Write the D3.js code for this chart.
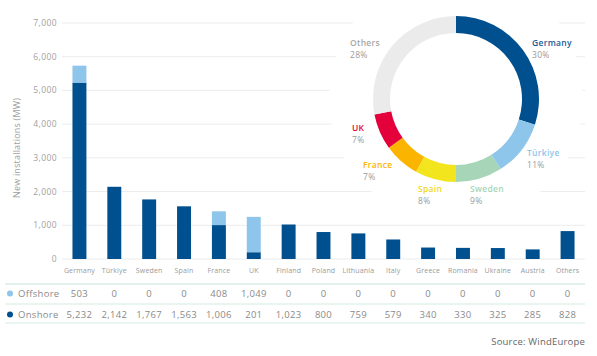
<!DOCTYPE html>
<html><head><meta charset="utf-8">
<script src="https://cdn.jsdelivr.net/npm/d3@7/dist/d3.min.js"></script>
<style>
body{margin:0;background:#fff;}
svg{display:block;font-family:"Open Sans",sans-serif;}
</style></head>
<body><svg id="c" width="597" height="356"></svg>
<script>
const categories = ["Germany","Türkiye","Sweden","Spain","France","UK","Finland","Poland","Lithuania","Italy","Greece","Romania","Ukraine","Austria","Others"];
const offshore = [503,0,0,0,408,1049,0,0,0,0,0,0,0,0,0];
const onshore = [5232,2142,1767,1563,1006,201,1023,800,759,579,340,330,325,285,828];
const yTicks = [0,1000,2000,3000,4000,5000,6000,7000];
const seriesNames = ["Offshore","Onshore"];
const pieNames = ["Germany","Türkiye","Sweden","Spain","France","UK","Others"];
const pieShares = [30,11,9,8,7,7,28];

const C_ON = "#00508f", C_OFF = "#8ec5ea";
const pieColors = ["#00508f","#8ec5ea","#a6d5b8","#f2e51d","#fbb400","#e4003a","#ebebeb"];
const pieTextColors = ["#1a5a96","#8ec5ea","#a6d5b8","#f0d81a","#fbb400","#e4003a","#a8a8a8"];
const pieLabelPos = [[532,46],[527,156],[470,192],[418,192],[363,168],[352,131],[350,46]];

const svg = d3.select("#c");
const x = d3.scaleBand().domain(categories).range([62,585]).paddingInner(0.6).paddingOuter(0.3);
const y = d3.scaleLinear().domain([0,7000]).range([259,23]);

// gridlines
svg.append("g").selectAll("line").data(yTicks).join("line")
  .attr("x1",62).attr("x2",585).attr("y1",d=>y(d)).attr("y2",d=>y(d))
  .attr("stroke","#ececec").attr("stroke-width",1);
// y tick labels
svg.append("g").selectAll("text").data(yTicks).join("text")
  .attr("x",57).attr("y",d=>y(d)).attr("dy","0.35em").attr("text-anchor","end")
  .attr("font-size",8.5).attr("letter-spacing",0.4).attr("fill","#a0a0a0")
  .text(d=>d3.format(",")(d));
// y title
svg.append("text").attr("transform","translate(20,148) rotate(-90)")
  .attr("text-anchor","middle").attr("font-size",9).attr("fill","#a0a0a0")
  .attr("letter-spacing",0.2).text("New installations (MW)");

// white mask behind donut
svg.append("circle").attr("cx",456).attr("cy",97).attr("r",127).attr("fill","#fff");

// bars
const stackData = categories.map((c,i)=>({cat:c,Onshore:onshore[i],Offshore:offshore[i]}));
const stack = d3.stack().keys(["Onshore","Offshore"])(stackData);
svg.append("g").selectAll("g").data(stack).join("g")
  .attr("fill",d=>d.key==="Onshore"?C_ON:C_OFF)
  .selectAll("rect").data(d=>d).join("rect")
  .attr("x",d=>x(d.data.cat)).attr("width",x.bandwidth())
  .attr("y",d=>y(d[1])).attr("height",d=>Math.max(0,y(d[0])-y(d[1])));

// category labels
svg.append("g").selectAll("text").data(categories).join("text")
  .attr("x",d=>x(d)+x.bandwidth()/2).attr("y",273).attr("text-anchor","middle")
  .attr("font-size",7).attr("letter-spacing",0.15).attr("fill","#9a9a9a").text(d=>d);

// table
[284,304,323].forEach((ly,i)=>svg.append("line").attr("x1",5).attr("x2",585)
  .attr("y1",ly).attr("y2",ly).attr("stroke","#d4ece0").attr("stroke-width",i===0?1.5:1.2));
const rows = [{name:seriesNames[0],vals:offshore,color:C_OFF,y:294},{name:seriesNames[1],vals:onshore,color:C_ON,y:315}];
rows.forEach(r=>{
  svg.append("circle").attr("cx",10).attr("cy",r.y-0.5).attr("r",3).attr("fill",r.color);
  svg.append("text").attr("x",18).attr("y",r.y).attr("dy","0.35em").attr("font-size",9.5)
    .attr("letter-spacing",0.3).attr("fill","#8a8a8a").text(r.name);
  svg.append("g").selectAll("text").data(r.vals).join("text")
    .attr("x",(d,i)=>x(categories[i])+x.bandwidth()/2).attr("y",r.y).attr("dy","0.35em")
    .attr("text-anchor","middle").attr("font-size",9.5).attr("letter-spacing",0.3)
    .attr("fill","#8a8a8a").text(d=>d3.format(",")(d));
});
// source
svg.append("text").attr("x",585).attr("y",342).attr("dy","0.35em").attr("text-anchor","end")
  .attr("font-size",9.5).attr("fill","#666").attr("letter-spacing",0.2).text("Source: WindEurope");

// donut
const pie = d3.pie().sort(null).value(d=>d)(pieShares);
const arc = d3.arc().innerRadius(66).outerRadius(83);
const pg = svg.append("g").attr("transform","translate(456,99)");
pg.selectAll("path").data(pie).join("path").attr("d",arc).attr("fill",(d,i)=>pieColors[i]);

const lg = svg.append("g");
pieNames.forEach((n,i)=>{
  const [lx,ly] = pieLabelPos[i];
  lg.append("text").attr("x",lx).attr("y",ly).attr("font-size",8.5).attr("font-weight",600)
    .attr("letter-spacing",0.3).attr("fill",pieTextColors[i]).text(n);
  lg.append("text").attr("x",lx).attr("y",ly+11.6).attr("font-size",8.5)
    .attr("letter-spacing",0.3).attr("fill","#9a9a9a").text(pieShares[i]+"%");
});
</script></body></html>
